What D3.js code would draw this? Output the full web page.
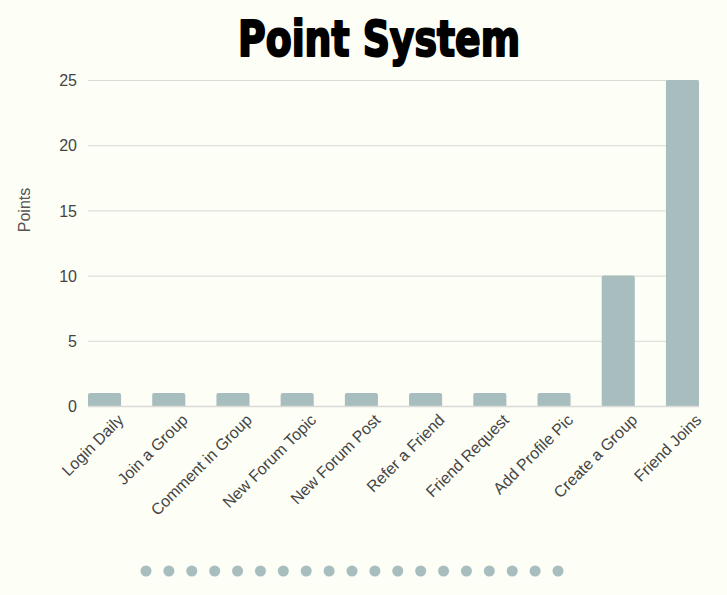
<!DOCTYPE html>
<html>
<head>
<meta charset="utf-8">
<script src="https://cdn.jsdelivr.net/npm/d3@7"></script>
<style>
  html, body { margin: 0; padding: 0; background: #fdfef6; }
  svg { display: block; }
</style>
</head>
<body>
<svg id="chart" width="727" height="595"></svg>
<script>
// Point rewards per activity
const categories = ["Login Daily", "Join a Group", "Comment in Group", "New Forum Topic",
  "New Forum Post", "Refer a Friend", "Friend Request", "Add Profile Pic",
  "Create a Group", "Friend Joins"];
const points = [1, 1, 1, 1, 1, 1, 1, 1, 10, 25];
const yTicks = [0, 5, 10, 15, 20, 25];
const pagerDots = d3.range(19);

const W = 727, H = 595;
const margin = { left: 88, right: 28, top: 80, bottom: 189 };
const barColor = "#a8bdbe";
const textColor = "#444";
const labelFont = "'Liberation Sans', Arial, sans-serif";

const svg = d3.select("#chart");
svg.append("rect").attr("width", W).attr("height", H).attr("fill", "#fdfef6");

const x = d3.scaleBand()
  .domain(categories)
  .range([margin.left, W - margin.right])
  .paddingInner(0.485)
  .paddingOuter(0);

const y = d3.scaleLinear()
  .domain([0, 25])
  .range([H - margin.bottom, margin.top]);

// Title: heavy condensed lettering, stretched vertically
svg.append("g")
  .attr("transform", "translate(379,56) scale(1,1.14)")
  .append("text")
  .attr("x", 0).attr("y", 0)
  .attr("text-anchor", "middle")
  .attr("font-family", "'DejaVu Sans Condensed', 'Liberation Sans Narrow', sans-serif")
  .attr("font-stretch", "condensed")
  .attr("font-weight", "bold")
  .attr("font-size", 44)
  .attr("textLength", 282)
  .attr("lengthAdjust", "spacingAndGlyphs")
  .attr("stroke", "#000").attr("stroke-width", 1.8)
  .attr("stroke-linejoin", "round")
  .attr("fill", "#000")
  .text("Point System");

// Gridlines
svg.append("g")
  .selectAll("line")
  .data(yTicks.filter(d => d > 0))
  .join("line")
  .attr("x1", margin.left).attr("x2", W - margin.right)
  .attr("y1", d => y(d) + 0.5).attr("y2", d => y(d) + 0.5)
  .attr("stroke", "#d9d9d6").attr("stroke-width", 1);

// Y axis
const yAxis = svg.append("g")
  .attr("transform", `translate(${margin.left - 11},0)`)
  .call(d3.axisLeft(y).tickValues(yTicks).tickSize(0).tickPadding(0));
yAxis.select(".domain").remove();
yAxis.selectAll("text")
  .attr("font-family", labelFont)
  .attr("font-size", 16)
  .attr("fill", textColor)
  .attr("dy", "0.35em");

// Y axis title
svg.append("text")
  .attr("transform", `translate(30,${(y(0) + y(25)) / 2 - 33}) rotate(-90)`)
  .attr("text-anchor", "middle")
  .attr("font-family", labelFont)
  .attr("font-size", 16)
  .attr("fill", "#555")
  .text("Points");

// Bars with slightly rounded tops
const r = 2;
svg.append("g")
  .selectAll("path")
  .data(categories.map((c, i) => ({ c, v: points[i] })))
  .join("path")
  .attr("fill", barColor)
  .attr("d", d => {
    const x0 = x(d.c), x1 = x0 + x.bandwidth();
    const y0 = y(0), y1 = y(d.v);
    return `M${x0},${y0}V${y1 + r}Q${x0},${y1} ${x0 + r},${y1}H${x1 - r}Q${x1},${y1} ${x1},${y1 + r}V${y0}Z`;
  });

// X axis baseline
svg.append("line")
  .attr("x1", margin.left).attr("x2", W - margin.right)
  .attr("y1", y(0) + 0.5).attr("y2", y(0) + 0.5)
  .attr("stroke", "#d9d9d6").attr("stroke-width", 1.5);

// X axis labels
const xAxis = svg.append("g")
  .attr("transform", `translate(0,${y(0)})`)
  .call(d3.axisBottom(x).tickSize(0).tickPadding(0));
xAxis.select(".domain").remove();
xAxis.selectAll("text")
  .attr("font-family", labelFont)
  .attr("font-size", 16)
  .attr("fill", textColor)
  .attr("text-anchor", "end")
  .attr("dy", 0)
  .attr("transform", "translate(20,15) rotate(-45)");

// Pager dots
const dotX = d3.scalePoint().domain(pagerDots).range([146, 558]);
svg.append("g")
  .selectAll("circle")
  .data(pagerDots)
  .join("circle")
  .attr("cx", d => dotX(d))
  .attr("cy", 571)
  .attr("r", 5.5)
  .attr("fill", barColor);
</script>
</body>
</html>
